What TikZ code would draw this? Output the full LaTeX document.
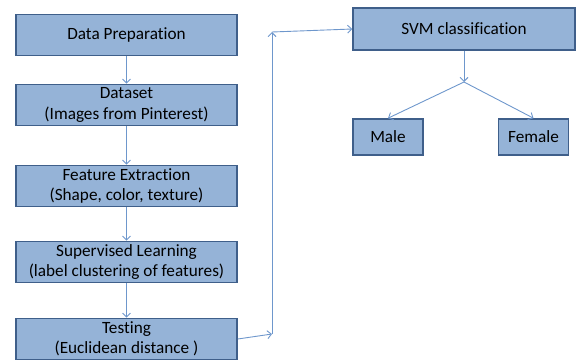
\documentclass[tikz,border=0pt]{standalone}
\usepackage{fontspec}
\setmainfont[Ligatures=NoCommon]{Carlito}
\usetikzlibrary{arrows.meta,positioning}

\definecolor{boxfill}{HTML}{95B3D7}
\definecolor{boxline}{HTML}{3F5F8A}
\definecolor{arrline}{HTML}{6E97CC}

\tikzset{
  stage/.style={draw=boxline, line width=1.6pt, fill=boxfill, align=center,
    minimum width=221pt, minimum height=41pt, inner sep=0pt,
    font=\fontsize{17.2}{20.5}\selectfont},
  result/.style={stage, minimum width=70pt, minimum height=36pt},
  flow/.style={draw=arrline, line width=0.9pt, -{Straight Barb[length=4pt,width=8pt]}}
}

\begin{document}
\begin{tikzpicture}[x=1pt,y=-1pt]

\useasboundingbox (0,0) rectangle (576,362);

\node[stage] (prep) at (126.5,35) {Data Preparation};
\node[stage] (data) at (126.5,105) {Dataset\\(Images from Pinterest)};
\node[stage] (feat) at (126.5,186) {Feature Extraction\\(Shape, color, texture)};
\node[stage] (learn) at (126.5,262) {Supervised Learning\\(label clustering of features)};
\node[stage] (test) at (126.5,339) {Testing\\(Euclidean distance )};

\node[stage, minimum width=222pt, minimum height=42pt] (svm) at (464,29) {SVM classification};
\node[result] (male) at (388,137) {Male};
\node[result] (female) at (533.5,137) {Female};

\coordinate (turn) at (272,334);
\coordinate (top) at (272,32);
\coordinate (split) at (464,82);

\draw[flow] (prep) -- (data);
\draw[flow] (data) -- (feat);
\draw[flow] (feat) -- (learn);
\draw[flow] (learn) -- (test);

\draw[flow] (test.east) -- (turn);
\draw[flow] (turn) -- (top);
\draw[flow] (top) -- (svm.west);

\draw[flow] (svm) -- (split);
\draw[flow] (split) -- (male.north);
\draw[flow] (split) -- (female.north);

\end{tikzpicture}
\end{document}
